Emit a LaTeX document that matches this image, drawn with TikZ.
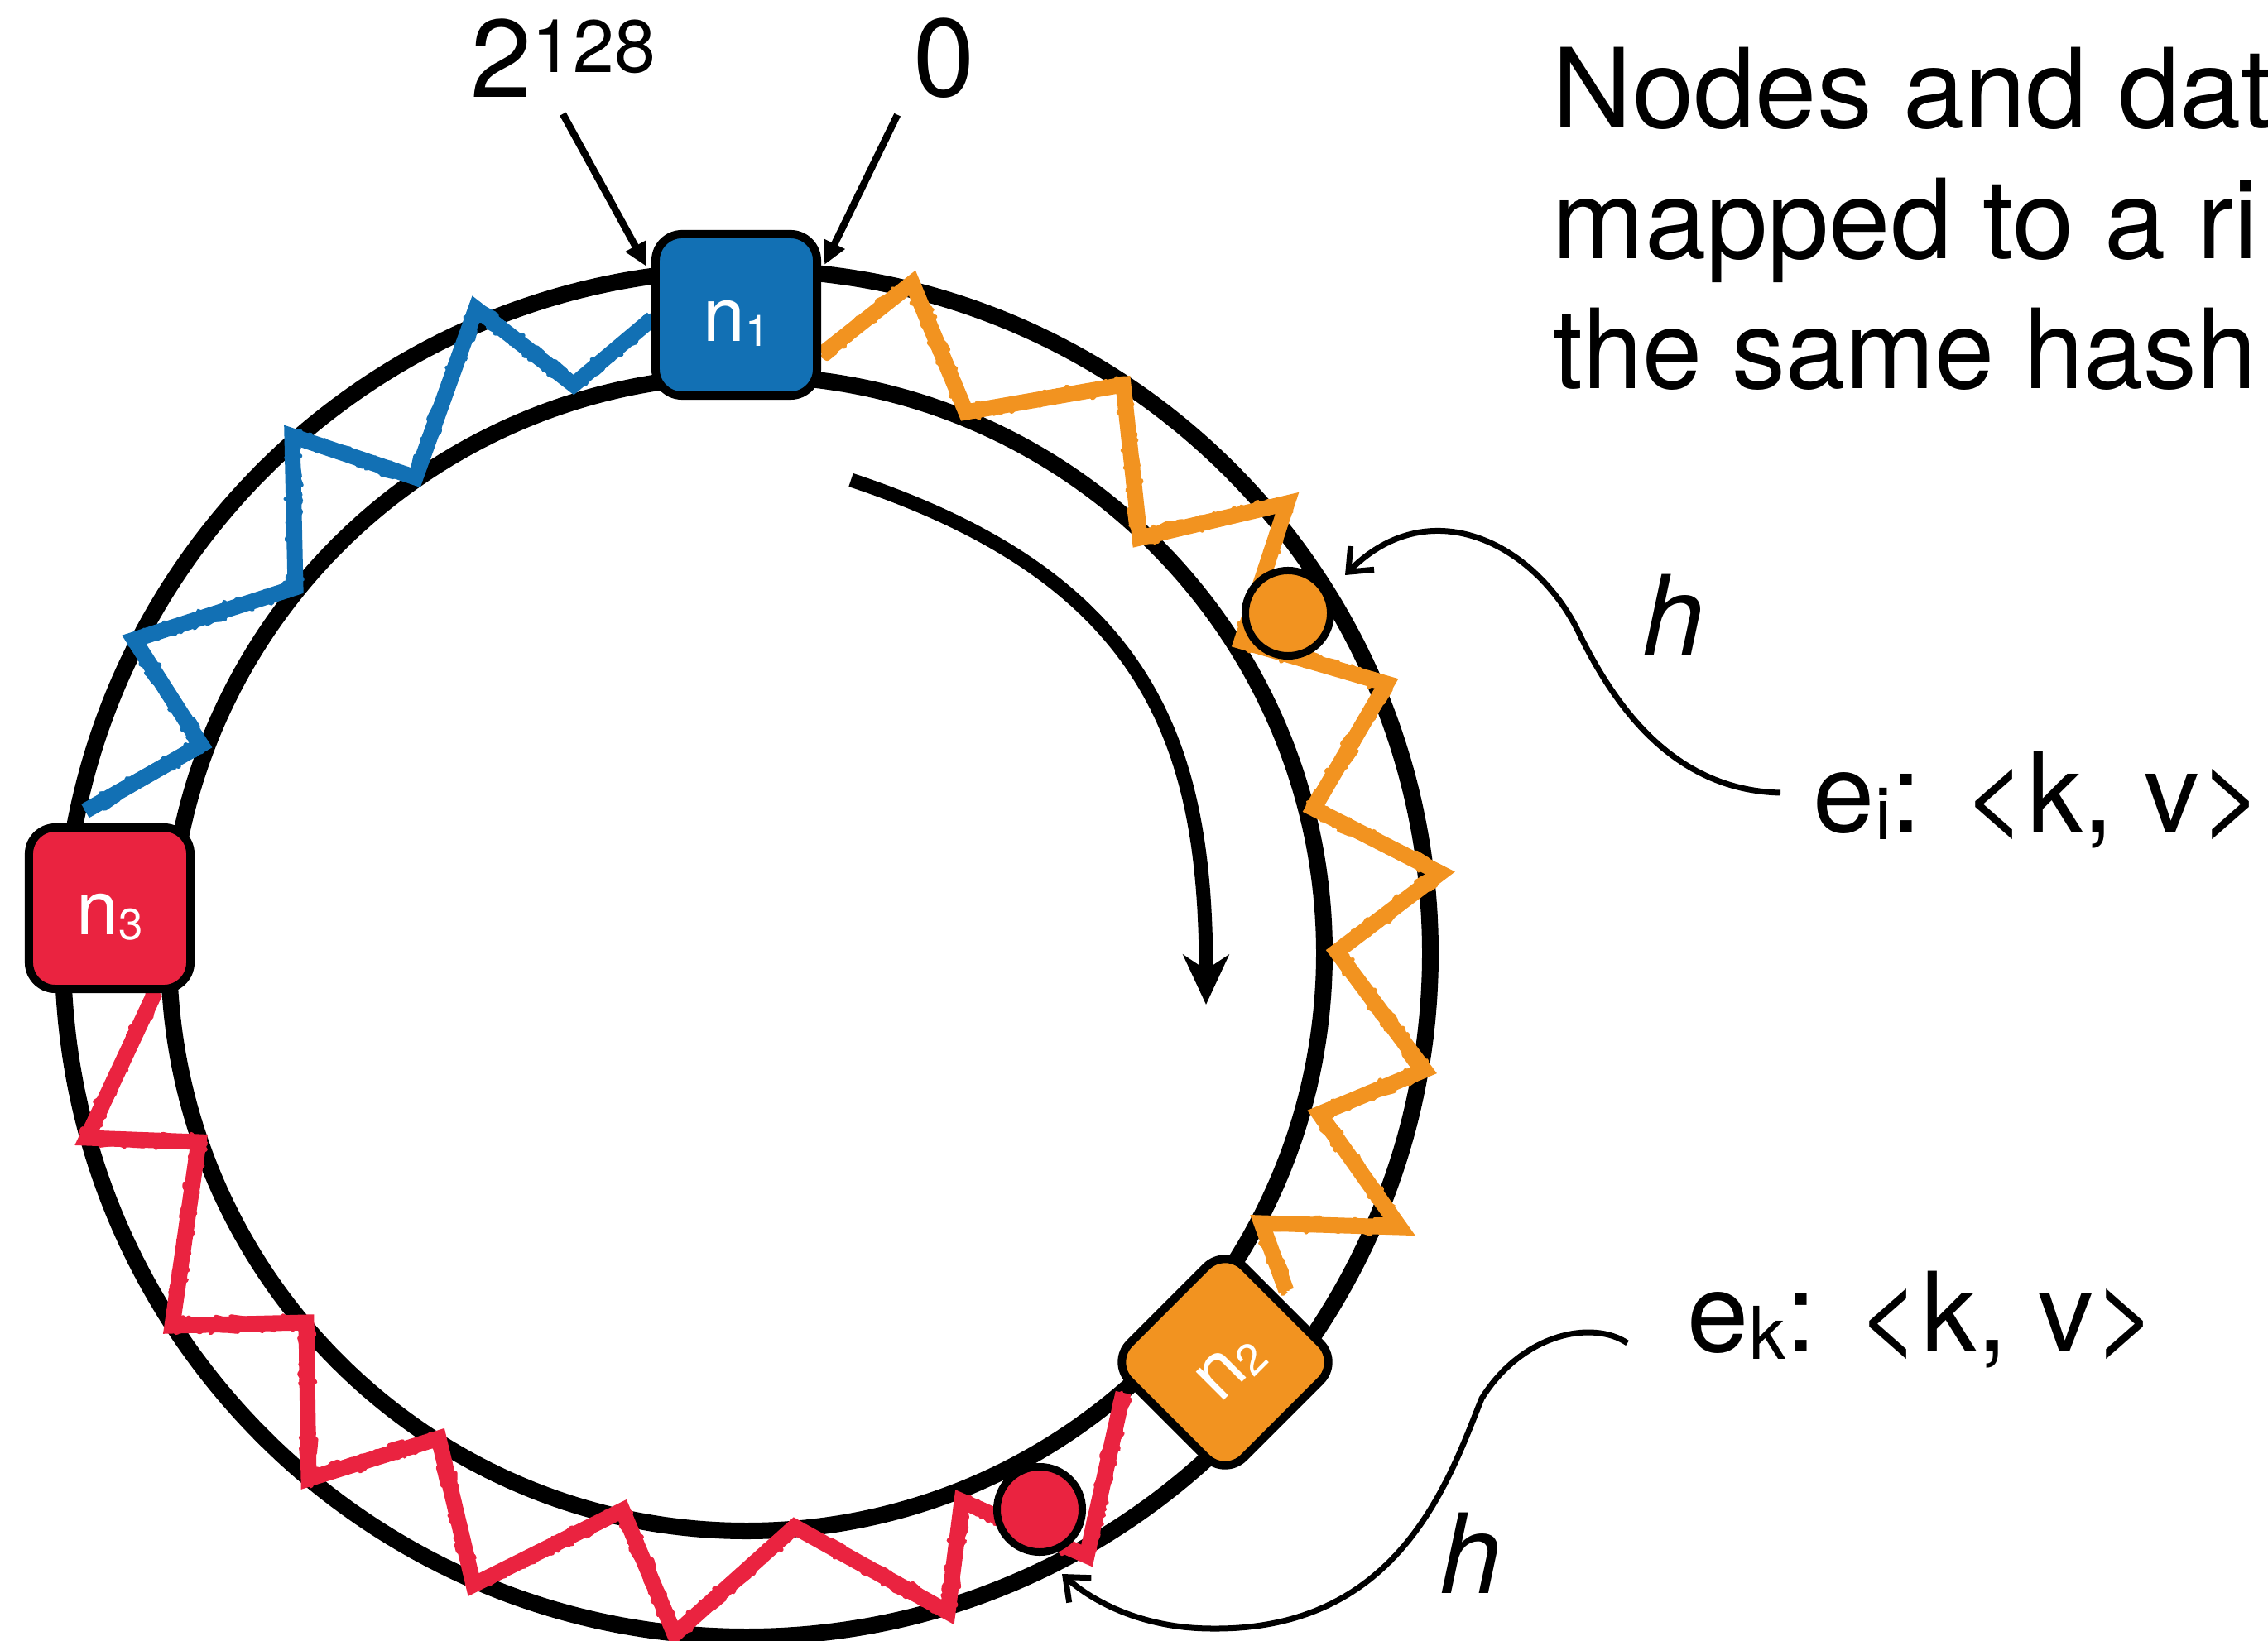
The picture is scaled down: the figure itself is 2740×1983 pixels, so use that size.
\documentclass[tikz,border=0pt]{standalone}
\usepackage{fontspec}
\setmainfont{TeX Gyre Heros}
\usetikzlibrary{arrows.meta,decorations.pathmorphing,calc}
\definecolor{nblue}{RGB}{18,112,180}
\definecolor{norange}{RGB}{242,147,32}
\definecolor{nred}{RGB}{234,35,64}
\newcommand{\mynlab}[1]{\fontsize{26}{26}\selectfont n\raisebox{-0.06cm}{\fontsize{15}{15}\selectfont #1}}
\newcommand{\myelab}[1]{e\raisebox{-0.09cm}{\fontsize{25}{25}\selectfont #1}: <k, v>}
\begin{document}
\begin{tikzpicture}[x=0.01cm,y=-0.01cm,
  ringline/.style={line width=0.2cm},
  nodebox/.style={draw=black, line width=0.1cm, rounded corners=0.32cm, minimum width=1.95cm, minimum height=1.95cm, inner sep=0pt},
  boxtext/.style={text=white, inner sep=0pt, anchor=base},
  dotmark/.style={circle, draw=black, line width=0.09cm, minimum size=1.03cm, inner sep=0pt},
  crayon/.style={draw=#1, line width=0.19cm, line join=miter, miter limit=12,
    postaction={draw=#1, line width=0.07cm, line join=round, decorate, decoration={random steps, segment length=0.07cm, amplitude=0.085cm}},
    postaction={draw=#1, line width=0.05cm, line join=round, decorate, decoration={random steps, segment length=0.05cm, amplitude=0.1cm}}},
  bigtext/.style={font=\fontsize{38}{45}\selectfont, inner sep=0pt},
  htext/.style={font=\fontsize{38}{45}\selectfont\itshape, inner sep=0pt, anchor=base},
  hashconn/.style={line width=0.07cm, -{Straight Barb[length=0.24cm, width=0.4cm]}},
  ptrarrow/.style={line width=0.085cm, -{Triangle[length=0.28cm, width=0.26cm]}},
  mainarrow/.style={line width=0.17cm, -{Stealth[length=0.6cm, width=0.55cm, inset=0.18cm]}}
]
\pgfmathsetseed{7}
\useasboundingbox (0,0) rectangle (2740,1983);
\fill[white] (0,0) rectangle (2740,1983);
\clip (0,0) rectangle (2740,1983);

% ring
\coordinate (ctr) at (902,1152);
\draw[ringline] (ctr) circle[radius=826];
\draw[ringline] (ctr) circle[radius=698];

% zigzags
\draw[crayon=nblue] (788,385) -- (693,465) -- (575,373) -- (502,577) -- (353,527) -- (357,710) -- (162,773) -- (243,900) -- (103,980);
\draw[crayon=norange] (993,428) -- (1102,342) -- (1167,498) -- (1357,465) -- (1377,650) -- (1555,608) -- (1500,775) -- (1675,826) -- (1587,977) -- (1740,1055) -- (1615,1150) -- (1721,1293) -- (1594,1346) -- (1691,1483) -- (1524,1478) -- (1554,1560);
\draw[crayon=nred] (187,1200) -- (105,1375) -- (240,1380) -- (208,1602) -- (370,1598) -- (373,1787) -- (530,1738) -- (572,1915) -- (752,1825) -- (815,1975) -- (960,1845) -- (1145,1948) -- (1162,1814) -- (1313,1880) -- (1357,1683);

% main direction arrow
\coordinate (arrS) at (1028,580);
\coordinate (arrE) at (1457,1214);
\draw[mainarrow] (arrS) .. controls (1390,700) and (1457,900) .. (arrE);

% labels at top
\node[bigtext, anchor=base, inner sep=0.19cm] (l128) at (680,118) {2\raisebox{0.3cm}{\fontsize{25.5}{26}\selectfont 128}};
\node[bigtext, anchor=base, inner sep=0.19cm] (l0) at (1141,117) {0};
\coordinate (t128) at (781,322);
\coordinate (t0) at (996,320);
\draw[ptrarrow] (l128.south) -- (t128);
\draw[ptrarrow] (l0.south west) -- (t0);

% data items
\node[dotmark, fill=norange] (dotA) at (1556,741) {};
\node[dotmark, fill=nred] (dotB) at (1256,1824) {};

% ring nodes
\node[nodebox, fill=nblue] (n1) at (889.5,380.5) {};
\node[boxtext] (n1t) at ($(n1.center)+(0,32)$) {\mynlab{1}};
\node[nodebox, fill=nred] (n3) at (132.5,1097.5) {};
\node[boxtext] (n3t) at ($(n3.center)+(0,32)$) {\mynlab{3}};
\node[nodebox, fill=norange, rotate=45] (n2) at (1480,1646) {};
\node[boxtext, rotate=45] (n2t) at ($(n2.center)+(22.6,22.6)$) {\mynlab{2}};

% title
\node[bigtext, anchor=base west] (title1) at (1875,155) {Nodes and dat};
\node[bigtext, anchor=base west] (title2) at (1875,313) {mapped to a ri};
\node[bigtext, anchor=base west] (title3) at (1876,470) {\scalebox{0.97}[1]{the same hash}};

% key/value items and hash connectors
\node[bigtext, anchor=base west, inner sep=0.39cm] (ei) at (2151,1005) {\myelab{i}};
\node[bigtext, anchor=base west, inner sep=0.72cm] (ek) at (1966,1633) {\myelab{k}};
\node[htext] (h1) at (2022,792) {h};
\node[htext] (h2) at (1777,1925) {h};
\coordinate (hA) at (1625,695);
\coordinate (hB) at (1283,1902);
\draw[hashconn] ([yshift=0.47cm]ei.base west) .. controls (2020,955) and (1950,850) .. (1910,770) .. controls (1860,660) and (1730,590) .. (hA);
\draw[hashconn] ([yshift=0.1cm]ek.base west) .. controls (1925,1595) and (1840,1610) .. (1790,1690) .. controls (1750,1790) and (1690,1970) .. (1465,1968) .. controls (1380,1968) and (1320,1935) .. (hB);
\end{tikzpicture}
\end{document}
